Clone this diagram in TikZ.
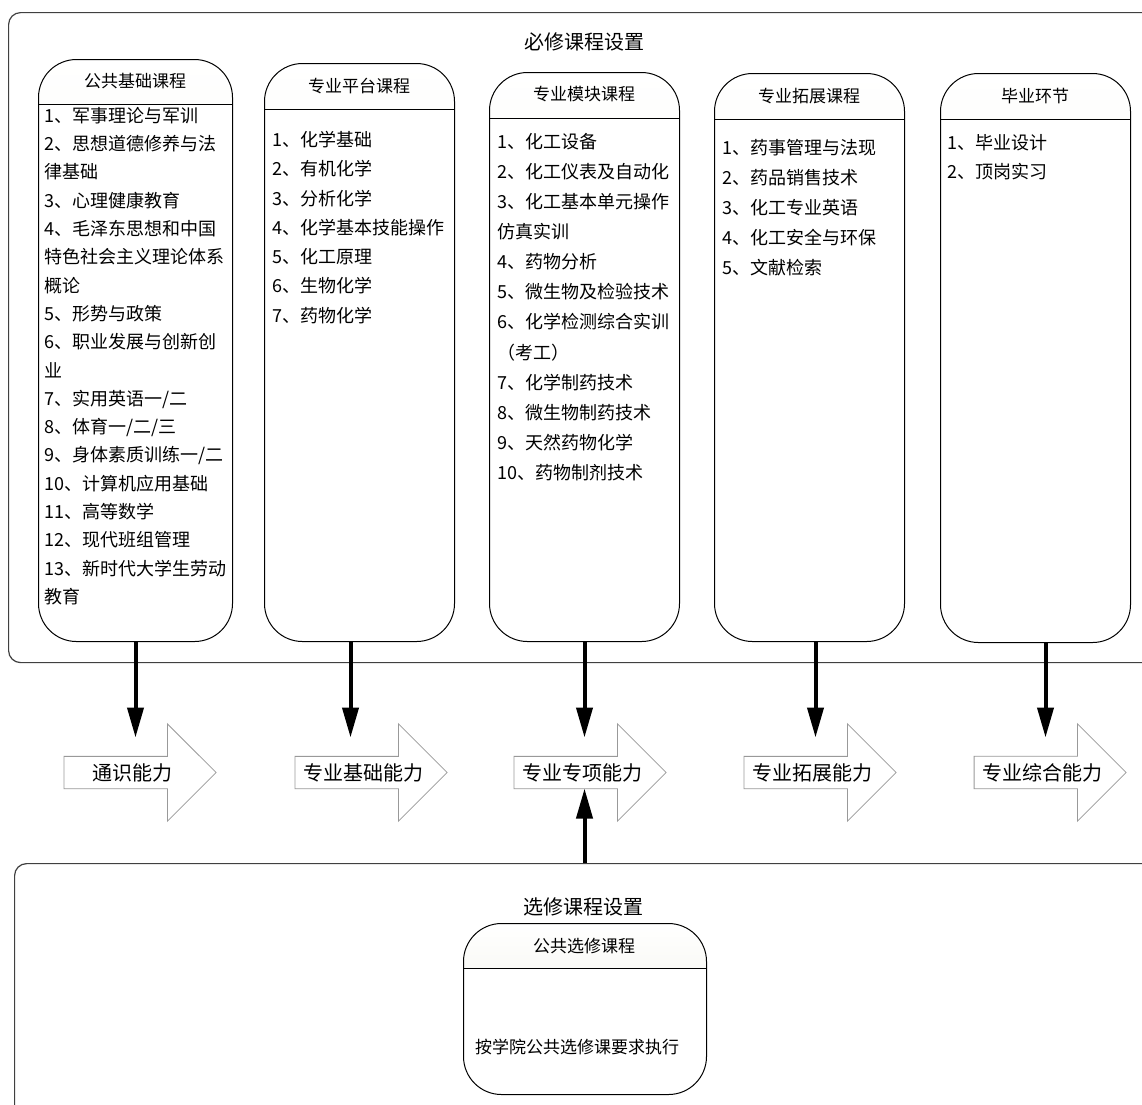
\documentclass[tikz,border=0pt]{standalone}
\usepackage{fontspec}
\setmainfont{Noto Sans CJK SC}
\usetikzlibrary{arrows.meta,shapes.arrows}

\definecolor{headfill}{RGB}{236,236,222}

\tikzset{
  areabox/.style={draw=black!75, line width=1.2pt, rounded corners=12pt,
    minimum width=1200pt, anchor=north west},
  areatitle/.style={font=\fontsize{20}{24}\selectfont},
  coursebox/.style={draw, line width=1pt, rounded corners=38pt, anchor=north west,
    path picture={
      \shade[sharp corners, top color=white, bottom color=headfill]
        (path picture bounding box.north west) rectangle
        ([yshift=-#1]path picture bounding box.north east);
      \draw[sharp corners, line width=1pt]
        ([yshift=-#1]path picture bounding box.north west) --
        ([yshift=-#1]path picture bounding box.north east);
    }},
  coursebox/.default=45.5pt,
  boxtitle/.style={font=\fontsize{17}{20}\selectfont},
  courselist/.style={align=left, inner sep=0pt, anchor=north west,
    font=\fontsize{18}{#1}\selectfont},
  ability/.style={single arrow, draw=gray!80, line width=0.8pt,
    single arrow head extend=32.5pt, single arrow head indent=0pt,
    minimum height=152pt, inner xsep=4pt, inner ysep=6.5pt,
    font=\fontsize{20}{24}\selectfont},
  flow/.style={line width=4pt, -{Triangle[length=30pt,width=16pt]}}
}

\begin{document}
\begin{tikzpicture}[x=1pt, y=-1pt]
  \fill[white] (0,0) rectangle (1142,1104);
  \useasboundingbox (0,0) rectangle (1142,1104);

  % required courses
  \node (Required) at (8,12) [areabox, minimum height=650pt] {};
  \node (RequiredTitle) at (584,42) [areatitle] {必修课程设置};

  \node (General) at (38,59) [coursebox=45pt,
    minimum width=194pt, minimum height=582pt] {};
  \node (GeneralTitle) at (135,81.5) [boxtitle] {公共基础课程};
  \node (GeneralList) at (44,107) [courselist=28.3pt]
    {1、军事理论与军训\\2、思想道德修养与法\\律基础\\3、心理健康教育\\
     4、毛泽东思想和中国\\特色社会主义理论体系\\概论\\5、形势与政策\\
     6、职业发展与创新创\\业\\7、实用英语一/二\\8、体育一/二/三\\
     9、身体素质训练一/二\\10、计算机应用基础\\11、高等数学\\
     12、现代班组管理\\13、新时代大学生劳动\\教育};

  \node (Platform) at (264,63) [coursebox,
    minimum width=190pt, minimum height=578pt] {};
  \node (PlatformTitle) at (359,86) [boxtitle] {专业平台课程};
  \node (PlatformList) at (272,131) [courselist=29.3pt]
    {1、化学基础\\2、有机化学\\3、分析化学\\4、化学基本技能操作\\
     5、化工原理\\6、生物化学\\7、药物化学};

  \node (Module) at (489,72) [coursebox,
    minimum width=190pt, minimum height=569pt] {};
  \node (ModuleTitle) at (584,94.5) [boxtitle] {专业模块课程};
  \node (ModuleList) at (497,133) [courselist=30.1pt]
    {1、化工设备\\2、化工仪表及自动化\\3、化工基本单元操作\\仿真实训\\
     4、药物分析\\5、微生物及检验技术\\6、化学检测综合实训\\（考工）\\
     7、化学制药技术\\8、微生物制药技术\\9、天然药物化学\\10、药物制剂技术};

  \node (Extension) at (714,73) [coursebox,
    minimum width=190pt, minimum height=568pt] {};
  \node (ExtensionTitle) at (809,96) [boxtitle] {专业拓展课程};
  \node (ExtensionList) at (722,139) [courselist=30pt]
    {1、药事管理与法现\\2、药品销售技术\\3、化工专业英语\\
     4、化工安全与环保\\5、文献检索};

  \node (Graduation) at (940,73) [coursebox,
    minimum width=190pt, minimum height=569pt] {};
  \node (GraduationTitle) at (1035,96) [boxtitle] {毕业环节};
  \node (GraduationList) at (947,134) [courselist=29pt]
    {1、毕业设计\\2、顶岗实习};

  % abilities
  \node (Literacy) at (132,772.5) [ability] {通识能力};
  \node (Basic) at (363,772.5) [ability] {专业基础能力};
  \node (Special) at (582,772.5) [ability] {专业专项能力};
  \node (Extended) at (812,772.5) [ability] {专业拓展能力};
  \node (Integrated) at (1042,772.5) [ability] {专业综合能力};

  \draw[flow, shorten >=35pt] (General.south) -- (General.south |- Literacy.center);
  \draw[flow, shorten >=35pt] ([xshift=-9pt]Platform.south) -- ([xshift=-9pt]Platform.south |- Basic.center);
  \draw[flow, shorten >=35pt] (Module.south) -- (Module.south |- Special.center);
  \draw[flow, shorten >=35pt] ([xshift=6pt]Extension.south) -- ([xshift=6pt]Extension.south |- Extended.center);
  \draw[flow, shorten >=35pt] ([xshift=10pt]Graduation.south) -- ([xshift=10pt]Graduation.south |- Integrated.center);

  % elective courses
  \node (Elective) at (14,863) [areabox, minimum height=300pt] {};
  \node (ElectiveTitle) at (583,907) [areatitle] {选修课程设置};

  \node (PublicElective) at (463,923) [coursebox=45pt,
    minimum width=243pt, minimum height=171pt] {};
  \node (PublicElectiveTitle) at (584,946) [boxtitle] {公共选修课程};
  \node (PublicElectiveText) at (577,1047) [boxtitle] {按学院公共选修课要求执行};

  \draw[flow, shorten >=16pt] (Elective.north -| Module.south) -- (Module.south |- Special.center);
\end{tikzpicture}
\end{document}
